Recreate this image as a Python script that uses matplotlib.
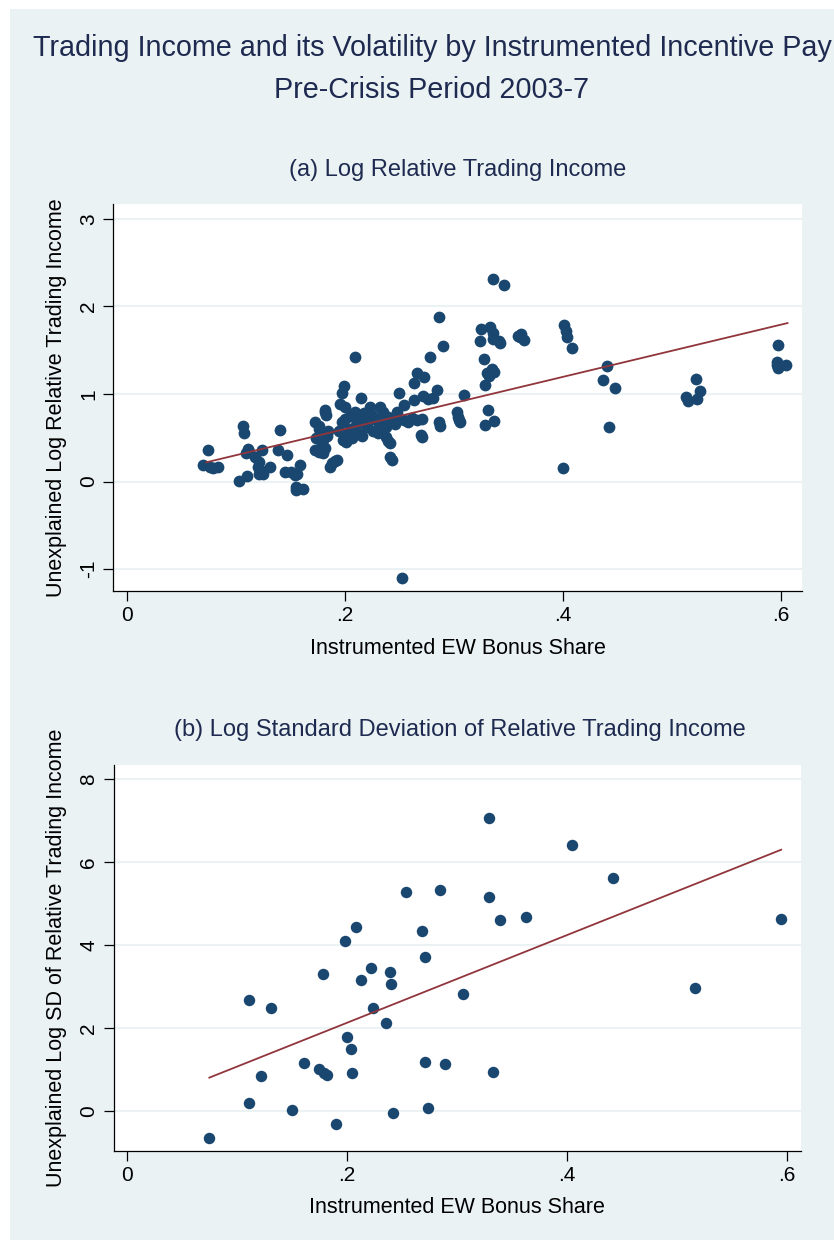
import matplotlib
matplotlib.use("Agg")
import matplotlib.pyplot as plt
from matplotlib.patches import Rectangle

plt.rcParams["font.family"] = ["Liberation Sans", "DejaVu Sans"]
plt.rcParams["axes.unicode_minus"] = False

# panel (a): log relative trading income vs instrumented bonus share
top_x = [
    0.075, 0.070, 0.076, 0.084, 0.079,
    0.103, 0.107, 0.108, 0.110, 0.111, 0.109, 0.112,
    0.118, 0.121, 0.120, 0.122, 0.125, 0.121, 0.124,
    0.131, 0.141, 0.139, 0.147, 0.145,
    0.151, 0.154, 0.155, 0.155, 0.159, 0.162, 0.156,
    0.173, 0.176, 0.182, 0.183, 0.182,
    0.174, 0.178, 0.180, 0.184, 0.176, 0.185,
    0.173, 0.176, 0.180, 0.182, 0.178,
    0.186, 0.188, 0.191, 0.193,
    0.199, 0.197, 0.196, 0.200, 0.209,
    0.197, 0.200, 0.205, 0.210, 0.203, 0.207, 0.213, 0.215, 0.218, 0.220,
    0.198, 0.201, 0.212, 0.223, 0.225, 0.222, 0.216, 0.209, 0.205, 0.195,
    0.228, 0.231, 0.235, 0.238, 0.240, 0.232, 0.236, 0.244, 0.246, 0.250,
    0.254, 0.258, 0.262, 0.266, 0.271, 0.238, 0.240, 0.241, 0.241, 0.243,
    0.250, 0.254, 0.248, 0.263, 0.272, 0.276, 0.281, 0.266, 0.273, 0.263,
    0.278, 0.285, 0.286, 0.290, 0.270, 0.271, 0.286, 0.287, 0.226, 0.230,
    0.303, 0.304, 0.305, 0.306, 0.309,
    0.325, 0.333, 0.336, 0.336, 0.342, 0.341, 0.324,
    0.328, 0.330, 0.335, 0.337, 0.332, 0.329,
    0.331, 0.329, 0.337,
    0.336, 0.346,
    0.359, 0.362, 0.364, 0.361,
    0.401, 0.403, 0.404, 0.408, 0.400,
    0.440, 0.437, 0.448, 0.442,
    0.522, 0.526, 0.513, 0.515, 0.523,
    0.597, 0.596, 0.597, 0.605, 0.596,
    0.252,
]
top_y = [
    0.36, 0.19, 0.17, 0.17, 0.16,
    0.01, 0.63, 0.56, 0.06, 0.37, 0.33, 0.34,
    0.28, 0.22, 0.17, 0.13, 0.09, 0.09, 0.36,
    0.17, 0.59, 0.36, 0.30, 0.11,
    0.11, 0.07, -0.06, -0.10, 0.19, -0.08, 0.09,
    0.68, 0.63, 0.82, 0.76, 0.80,
    0.50, 0.55, 0.47, 0.52, 0.60, 0.58,
    0.36, 0.34, 0.33, 0.38, 0.40,
    0.17, 0.21, 0.23, 0.25,
    1.09, 1.01, 0.89, 0.85, 1.42,
    0.68, 0.72, 0.60, 0.65, 0.55, 0.50, 0.70, 0.95, 0.78, 0.62,
    0.48, 0.45, 0.55, 0.85, 0.76, 0.70, 0.52, 0.80, 0.75, 0.58,
    0.72, 0.66, 0.80, 0.62, 0.74, 0.85, 0.69, 0.68, 0.66, 0.72,
    0.70, 0.68, 0.73, 0.70, 0.72, 0.51, 0.46, 0.44, 0.28, 0.25,
    1.01, 0.87, 0.80, 0.93, 0.98, 0.94, 0.96, 1.24, 1.19, 1.13,
    1.42, 1.05, 1.88, 1.55, 0.53, 0.51, 0.68, 0.63, 0.58, 0.55,
    0.80, 0.74, 0.70, 0.68, 0.99,
    1.74, 1.76, 1.70, 1.63, 1.58, 1.60, 1.60,
    1.40, 1.24, 1.29, 1.25, 1.20, 1.10,
    0.82, 0.65, 0.69,
    2.31, 2.24,
    1.66, 1.69, 1.62, 1.65,
    1.79, 1.72, 1.65, 1.52, 0.15,
    1.32, 1.16, 1.07, 0.62,
    1.17, 1.03, 0.97, 0.92, 0.94,
    1.56, 1.37, 1.30, 1.33, 1.33,
    -1.10,
]
top_fit_x = [0.073, 0.606]
top_fit_y = [0.22, 1.81]

# panel (b): log SD of relative trading income
bot_x = [
    0.075, 0.111, 0.111, 0.122, 0.131, 0.150, 0.161, 0.175, 0.178, 0.179,
    0.182, 0.190, 0.198, 0.200, 0.204, 0.205, 0.208, 0.2125, 0.222, 0.224,
    0.236, 0.239, 0.240, 0.242, 0.254, 0.268, 0.271, 0.271, 0.274, 0.285,
    0.289, 0.306, 0.329, 0.329, 0.333, 0.339, 0.363, 0.405, 0.442, 0.517,
    0.595,
]
bot_y = [
    -0.65, 0.18, 2.68, 0.85, 2.48, 0.02, 1.15, 1.00, 3.29, 0.92,
    0.86, -0.31, 4.09, 1.77, 1.50, 0.90, 4.43, 3.14, 3.44, 2.47,
    2.11, 3.34, 3.05, -0.06, 5.26, 4.32, 3.70, 1.17, 0.07, 5.31,
    1.13, 2.81, 7.05, 5.14, 0.93, 4.60, 4.67, 6.41, 5.62, 2.97,
    4.62,
]
bot_fit_x = [0.075, 0.595]
bot_fit_y = [0.80, 6.29]

x_ticks = [0, 0.2, 0.4, 0.6]
x_ticklabels = ["0", ".2", ".4", ".6"]
top_yticks = [-1, 0, 1, 2, 3]
bot_yticks = [0, 2, 4, 6, 8]

bg = "#eaf2f3"
navy = "#1a476f"
maroon = "#90353b"
title_col = "#1e2a50"

W, H = 834, 1247
fig = plt.figure(figsize=(W / 100, H / 100), dpi=100, facecolor="white")
fig.patches.append(Rectangle((10 / W, 7 / H), 824 / W, 1231 / H,
                             transform=fig.transFigure, facecolor=bg,
                             edgecolor="none", zorder=-10))


def make_axes(left, right, top, bottom):
    return fig.add_axes([left / W, 1 - bottom / H, (right - left) / W, (bottom - top) / H])


def style_axes(ax, yticks):
    ax.set_facecolor("white")
    for side in ["top", "right"]:
        ax.spines[side].set_visible(False)
    for side in ["left", "bottom"]:
        ax.spines[side].set_linewidth(0.9)
    ax.set_xticks(x_ticks)
    ax.set_xticklabels(x_ticklabels)
    ax.set_yticks(yticks)
    ax.set_yticklabels([str(v) for v in yticks], rotation=90, va="center")
    ax.tick_params(length=7, width=0.9, labelsize=15, pad=4)
    ax.yaxis.grid(True, color=bg, linewidth=1.5)
    ax.set_axisbelow(True)
    ax.set_xlabel("Instrumented EW Bonus Share", fontsize=15.5, labelpad=9)


ax = make_axes(113.3, 801.7, 204, 591)
ax.scatter(top_x, top_y, s=72, color=navy, linewidths=0, zorder=3)
ax.plot(top_fit_x, top_fit_y, color=maroon, linewidth=1.3, zorder=4)
ax.set_xlim(-0.0123, 0.619)
ax.set_ylim(-1.25, 3.17)
style_axes(ax, top_yticks)
ax.set_ylabel("Unexplained Log Relative Trading Income", fontsize=15.5, labelpad=9)

ax = make_axes(113.7, 801, 765, 1150.7)
ax.scatter(bot_x, bot_y, s=68, color=navy, linewidths=0, zorder=3)
ax.plot(bot_fit_x, bot_fit_y, color=maroon, linewidth=1.3, zorder=4)
ax.set_xlim(-0.012, 0.613)
ax.set_ylim(-0.96, 8.33)
style_axes(ax, bot_yticks)
ax.set_ylabel("Unexplained Log SD of Relative Trading Income", fontsize=15.5, labelpad=9)

fig.text(432 / W, 1 - 48 / H, "Trading Income and its Volatility by Instrumented Incentive Pay",
         ha="center", va="center", fontsize=20.7, color=title_col)
fig.text(432 / W, 1 - 90 / H, "Pre-Crisis Period 2003-7",
         ha="center", va="center", fontsize=20.7, color=title_col)
fig.text(458 / W, 1 - 170 / H, "(a) Log Relative Trading Income",
         ha="center", va="center", fontsize=17, color=title_col)
fig.text(460 / W, 1 - 730 / H, "(b) Log Standard Deviation of Relative Trading Income",
         ha="center", va="center", fontsize=17, color=title_col)

fig.savefig("out.png", dpi=100, facecolor=fig.get_facecolor())
